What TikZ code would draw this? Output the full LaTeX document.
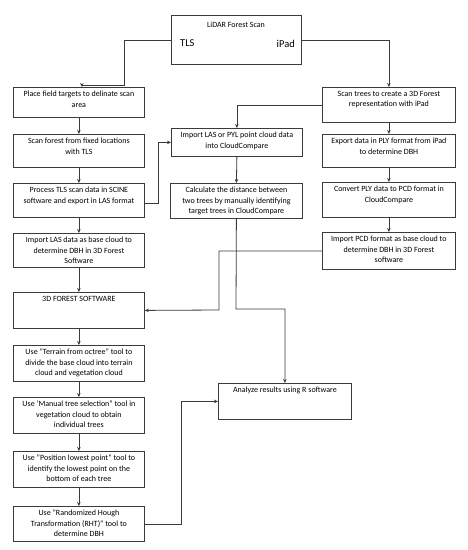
\documentclass[tikz,border=0pt]{standalone}
\usepackage{fontspec}
\setmainfont{Carlito}
\usetikzlibrary{arrows.meta,calc}
\definecolor{ln}{HTML}{3A3A3A}
\newcommand{\mkbox}[6]{%
  \node[fbx, anchor=north west] (#1) at (#2,#3)
    {\parbox[c][#5pt][t]{#4pt}{\centering\fontsize{8}{10.7}\selectfont\vspace*{3.5pt}#6\par}};}
\tikzset{
  fbx/.style={draw=ln, line width=0.8pt, inner sep=0pt, fill=white},
  arr/.style={draw=ln, line width=0.8pt, -{Stealth[length=4pt,width=3.5pt]}},
  ln/.style={draw=ln, line width=0.8pt},
}
\begin{document}
\begin{tikzpicture}[x=1pt,y=-1pt]
\useasboundingbox (0,0) rectangle (467,550);
% top box
\node[fbx, anchor=north west, minimum width=130pt, minimum height=49pt] (lidar) at (171,15) {};
\node[font=\fontsize{8}{10}\selectfont] (lt) at (236,25) {LiDAR Forest Scan};
\node[font=\fontsize{10.5}{12}\selectfont, anchor=west, inner sep=0pt] (tls) at (180,43.5) {TLS};
\node[font=\fontsize{10.5}{12}\selectfont, anchor=east, inner sep=0pt] (ipad) at (295,43.5) {iPad};
% left column
\mkbox{b1}{13}{87}{131}{30}{Place field targets to delinate scan\\area}
\mkbox{b2}{13}{134}{131}{33}{Scan forest from fixed locations\\with TLS}
\mkbox{b3}{13}{183}{131}{34}{Process TLS scan data in SCINE\\software and export in LAS format}
\mkbox{b4}{13}{233}{131}{34}{Import LAS data as base cloud to\\determine DBH in 3D Forest\\Software}
\mkbox{b5}{13}{292}{131}{36}{3D FOREST SOFTWARE}
\mkbox{b6}{13}{345}{131}{36}{Use "Terrain from octree" tool to\\divide the base cloud into terrain\\cloud and vegetation cloud}
\mkbox{b7}{13}{397}{131}{36}{Use 'Manual tree selection'' tool in\\vegetation cloud to obtain\\individual trees}
\mkbox{b8}{13}{451}{131}{36}{Use "Position lowest point" tool to\\identify the lowest point on the\\bottom of each tree}
\mkbox{b9}{13}{506}{131}{35}{Use "Randomized Hough\\Transformation (RHT)" tool to\\determine DBH}
% middle column
\mkbox{m1}{171}{128}{131}{28}{Import LAS or PYL point cloud data\\into CloudCompare}
\mkbox{m2}{170}{183}{132}{35}{Calculate the distance between\\two trees by manually identifying\\target trees in CloudCompare}
% right column
\mkbox{r1}{322}{87}{133}{35}{Scan trees to create a 3D Forest\\representation with iPad}
\mkbox{r2}{322}{134}{133}{33}{Export data in PLY format from iPad\\to determine DBH}
\mkbox{r3}{322}{182}{133}{35}{Convert PLY data to PCD format in\\CloudCompare}
\mkbox{r4}{322}{232}{133}{37}{Import PCD format as base cloud to\\determine DBH in 3D Forest\\software}
% result
\mkbox{rs}{218}{383}{133}{36}{Analyze results using R software}
% connectors
\draw[arr] (lidar.west) -| (124,85) -| ([xshift=3pt]b1.north);
\foreach \a/\b in {b1/b2,b2/b3,b3/b4,b4/b5,b5/b6,b6/b7,b7/b8,b8/b9,m1/m2,r1/r2,r2/r3,r3/r4}
  \draw[arr] (\a.south) -- (\b.north);
\draw[arr] (lidar.east) -| (r1.north);
\draw[arr] (r1.west) -| (m1.north);
\draw[arr] ([yshift=-3pt]b3.east) -- ++(14,0) |- (m1.west);
\draw[arr] (r4.west) -| (219,310) -- (b5.east);
\draw[arr] (m2.south) -- (236,309) -| (rs.north);
\draw[arr] (b9.east) -- ++(37,0) |- (rs.west);
\end{tikzpicture}
\end{document}
